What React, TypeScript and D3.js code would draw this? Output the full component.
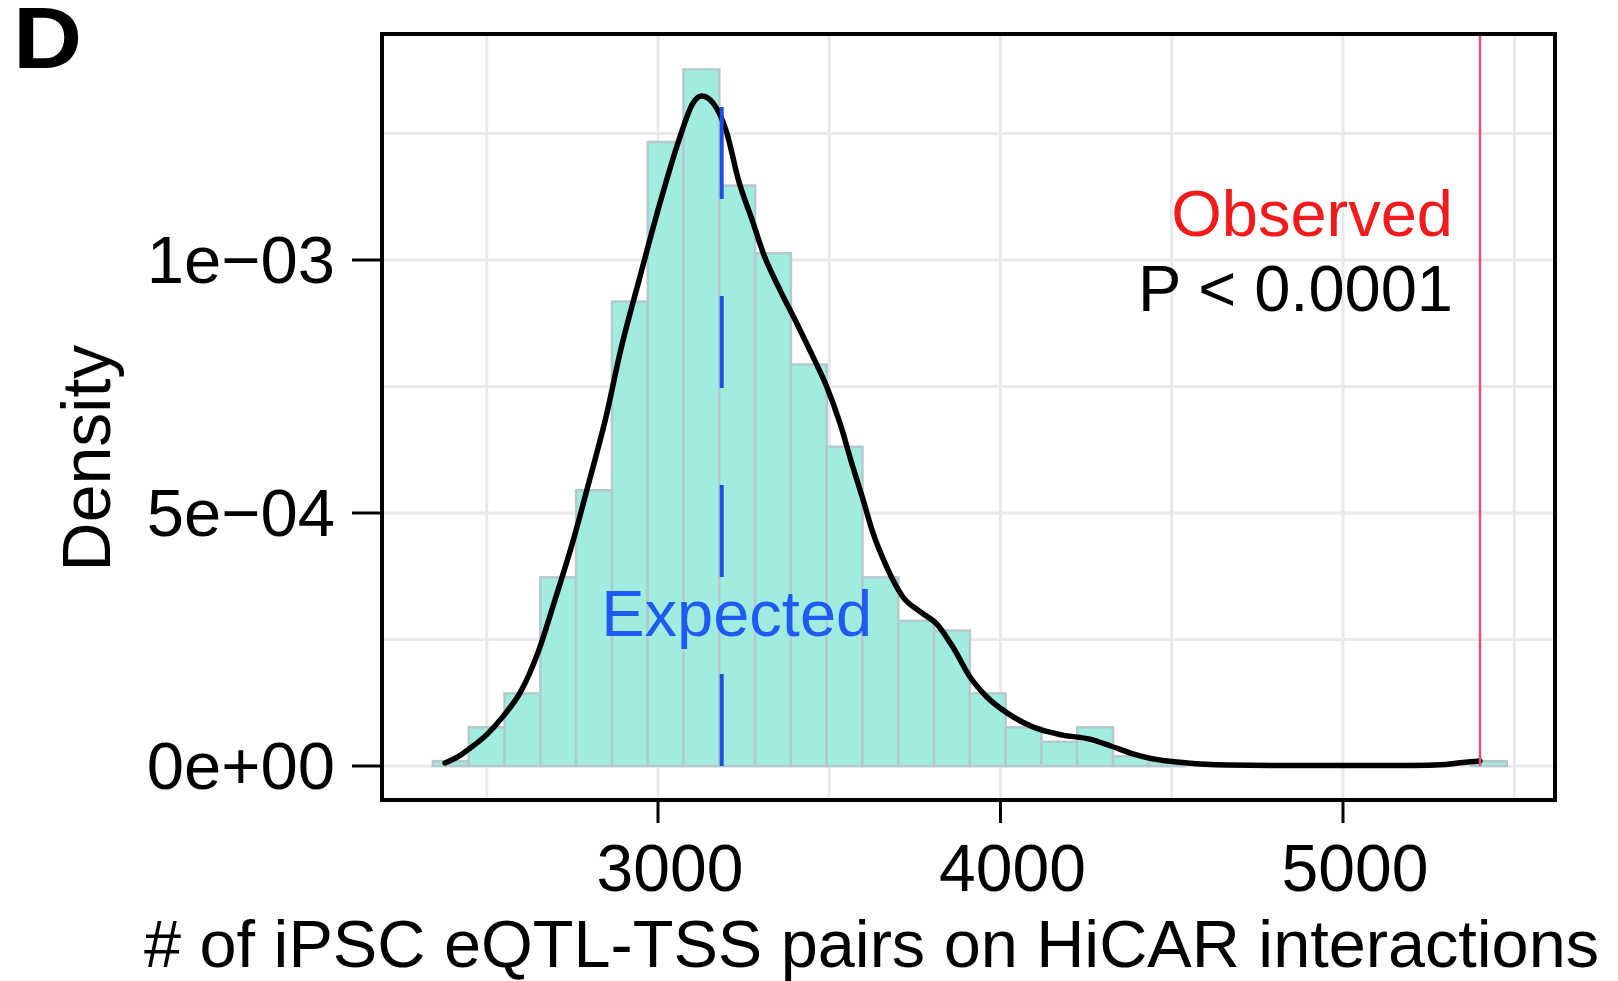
import React from 'react';
import * as d3 from 'd3';

// ---- data ----
const binStart = 2343;
const binWidth = 104.5;
const binCounts = [1, 8, 15, 39, 57, 96, 129, 144, 120, 106, 83, 66, 39, 30, 28, 15, 8, 5, 8, 2, 1, 0, 0, 0, 0, 0, 0, 0, 0, 1];
const totalCount = 1001;

const curveX = [2378, 2420, 2451, 2500, 2550, 2600, 2650, 2700, 2750, 2800, 2850, 2889, 2947, 3006, 3064, 3102, 3128, 3161, 3201, 3234, 3278, 3307, 3356, 3405, 3453, 3493, 3531, 3569, 3599, 3628, 3668, 3715, 3765, 3815, 3861, 3911, 3961, 4019, 4095, 4182, 4261, 4320, 4387, 4431, 4545, 4661, 4800, 5000, 5200, 5300, 5350, 5400];
const curveY = [0.6e-5, 2.0e-5, 3.5e-5, 6.2e-5, 1.0e-4, 1.48e-4, 2.25e-4, 3.3e-4, 4.4e-4, 5.65e-4, 6.95e-4, 8.16e-4, 9.66e-4, 1.113e-3, 1.243e-3, 1.31e-3, 1.324e-3, 1.31e-3, 1.251e-3, 1.16e-3, 1.073e-3, 1.014e-3, 9.41e-4, 8.75e-4, 8.08e-4, 7.49e-4, 6.78e-4, 5.91e-4, 5.26e-4, 4.6e-4, 3.93e-4, 3.34e-4, 3.05e-4, 2.8e-4, 2.35e-4, 1.76e-4, 1.36e-4, 1.05e-4, 7.7e-5, 6.1e-5, 5.3e-5, 4.0e-5, 2.4e-5, 1.6e-5, 6e-6, 2e-6, 1e-6, 1e-6, 1e-6, 3e-6, 7e-6, 1.0e-5];

const expectedValue = 3186;
const observedValue = 5400;

const xTicks = [3000, 4000, 5000];
const xTickLabels = ['3000', '4000', '5000'];
const yTicks = [0, 5e-4, 1e-3];
const yTickLabels = ['0e+00', '5e\u221204', '1e\u221203'];
const xGrid = [2500, 3000, 3500, 4000, 4500, 5000, 5500];
const yGrid = [0, 2.5e-4, 5e-4, 7.5e-4, 1e-3, 1.25e-3];

const panelLabel = 'D';
const xLabel = '# of iPSC eQTL-TSS pairs on HiCAR interactions';
const yLabel = 'Density';
const expectedLabel = 'Expected';
const observedLabel = 'Observed';
const pLabel = 'P < 0.0001';

const FONT = '"Liberation Sans", Arial, Helvetica, sans-serif';

export default function App() {
  const W = 1618;
  const H = 981;
  const box = { left: 382, right: 1555, top: 34, bottom: 800 };

  const x = d3.scaleLinear().domain([3000, 5000]).range([658, 1343]);
  const y = d3.scaleLinear().domain([0, 1e-3]).range([766, 260]);

  const bins = binCounts.map((c, i) => ({
    x0: binStart + i * binWidth,
    x1: binStart + (i + 1) * binWidth,
    d: c / (totalCount * binWidth),
    c,
  }));

  const line = d3
    .line<number>()
    .x((_, i) => x(curveX[i]))
    .y((v) => y(v))
    .curve(d3.curveMonotoneX);
  const curvePath = line(curveY) || '';

  const peak = d3.max(curveY) as number;

  return (
    <svg width={W} height={H} style={{ position: 'absolute', left: 0, top: 0, background: '#fff' }}>
      <rect x={0} y={0} width={W} height={H} fill="#fff" />
      <defs>
        <clipPath id="plotclip">
          <rect x={box.left} y={box.top} width={box.right - box.left} height={box.bottom - box.top} />
        </clipPath>
      </defs>
      <g clipPath="url(#plotclip)">
        {xGrid.map((g) => (
          <line key={'xg' + g} x1={x(g)} x2={x(g)} y1={box.top} y2={box.bottom} stroke="#E6EAEC" strokeWidth={3} />
        ))}
        {yGrid.map((g) => (
          <line key={'yg' + g} x1={box.left} x2={box.right} y1={y(g)} y2={y(g)} stroke="#E6EAEC" strokeWidth={3} />
        ))}
        {bins
          .filter((b) => b.c > 0)
          .map((b, i) => (
            <rect
              key={'b' + i}
              x={x(b.x0)}
              width={x(b.x1) - x(b.x0)}
              y={y(b.d)}
              height={y(0) - y(b.d)}
              fill="#A0ECE1"
              stroke="#B3C9CD"
              strokeWidth={2.5}
            />
          ))}
        <path d={curvePath} fill="none" stroke="#000" strokeWidth={5.5} strokeLinejoin="round" strokeLinecap="round" />
        <line
          x1={x(expectedValue)}
          x2={x(expectedValue)}
          y1={y(0)}
          y2={y(peak)}
          stroke="#1F4FE0"
          strokeWidth={4}
          strokeDasharray="92 97"
        />
        <line x1={x(observedValue)} x2={x(observedValue)} y1={y(0)} y2={box.top - 5} stroke="#E0507A" strokeWidth={2.5} />
      </g>

      <rect
        x={box.left}
        y={box.top}
        width={box.right - box.left}
        height={box.bottom - box.top}
        fill="none"
        stroke="#000"
        strokeWidth={4}
      />

      {yTicks.map((t, i) => (
        <g key={'yt' + i}>
          <line x1={box.left - 30} x2={box.left} y1={y(t)} y2={y(t)} stroke="#000" strokeWidth={3} />
          <text x={335} y={y(t) + 23} textAnchor="end" fontFamily={FONT} fontSize={67} fill="#000">
            {yTickLabels[i]}
          </text>
        </g>
      ))}
      {xTicks.map((t, i) => (
        <g key={'xt' + i}>
          <line x1={x(t)} x2={x(t)} y1={box.bottom} y2={box.bottom + 23} stroke="#000" strokeWidth={3} />
          <text x={x(t) + 12} y={891} textAnchor="middle" fontFamily={FONT} fontSize={66} fill="#000">
            {xTickLabels[i]}
          </text>
        </g>
      ))}

      <text
        x={144}
        y={967}
        fontFamily={FONT}
        fontSize={66}
        fill="#000"
        textLength={1455}
        lengthAdjust="spacingAndGlyphs"
      >
        {xLabel}
      </text>
      <text
        transform={`translate(110, 458) rotate(-90)`}
        textAnchor="middle"
        fontFamily={FONT}
        fontSize={68}
        fill="#000"
      >
        {yLabel}
      </text>
      <text
        transform="translate(13, 68) scale(1.1, 1)"
        fontFamily={FONT}
        fontSize={87}
        fontWeight="bold"
        fill="#000"
      >
        {panelLabel}
      </text>

      <text x={x(expectedValue) + 15} y={636} textAnchor="middle" fontFamily={FONT} fontSize={65} fill="#1F5BF0">
        {expectedLabel}
      </text>
      <text x={1453} y={236} textAnchor="end" fontFamily={FONT} fontSize={65} fill="#F21A1A">
        {observedLabel}
      </text>
      <text x={1453} y={311} textAnchor="end" fontFamily={FONT} fontSize={65} fill="#000">
        {pLabel}
      </text>
    </svg>
  );
}
